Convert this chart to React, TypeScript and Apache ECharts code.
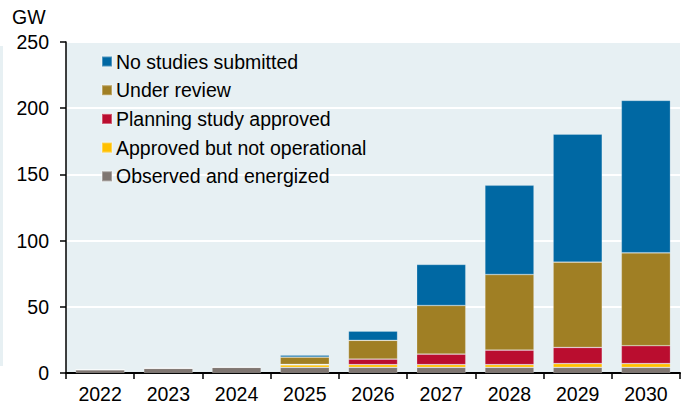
import React, { useEffect, useRef } from "react";
import * as echarts from "echarts";

const years = ["2022", "2023", "2024", "2025", "2026", "2027", "2028", "2029", "2030"];
const observed = [2.5, 3.5, 4.3, 4.3, 4.3, 4.3, 4.3, 4.3, 4.3];
const approved = [0, 0, 0, 1.8, 2, 2, 2, 2.8, 2.8];
const planning = [0, 0, 0, 0.4, 4.2, 8, 11, 12.2, 13.5];
const underReview = [0, 0.4, 0.3, 5.5, 14.2, 36.7, 57.1, 64.4, 70.2];
const noStudies = [0, 0, 0, 1.5, 7, 31, 67.4, 96.7, 115.1];
const yTicks = { min: 0, max: 250, interval: 50 };

const FONT = "'Liberation Sans', Arial, sans-serif";
const FS = 19.5;

export default function App() {
  const ref = useRef<HTMLDivElement>(null);
  useEffect(() => {
    if (!ref.current) return;
    const chart = echarts.init(ref.current, undefined, { renderer: "svg" });
    const mk = (name: string, data: number[], color: string) => ({
      name,
      type: "bar",
      stack: "total",
      data,
      barWidth: "72%",
      itemStyle: { color, borderColor: "rgba(255,255,255,0.3)", borderWidth: 0.7 },
    });
    chart.setOption({
      animation: false,
      textStyle: { fontFamily: FONT },
      grid: {
        left: 66,
        right: 5,
        top: 42,
        bottom: 29,
        show: true,
        backgroundColor: "#E7F0F3",
        borderWidth: 0,
        outerBoundsMode: "none",
        containLabel: false,
      },
      legend: {
        orient: "vertical",
        left: 101,
        top: 51,
        padding: 0,
        itemWidth: 10,
        itemHeight: 10,
        itemGap: 7.7,
        icon: "rect",
        data: [
          "No studies submitted",
          "Under review",
          "Planning study approved",
          "Approved but not operational",
          "Observed and energized",
        ],
        textStyle: { fontSize: FS, color: "#000", fontFamily: FONT, lineHeight: 21, padding: [0, 0, 0, -1] },
      },
      xAxis: {
        type: "category",
        data: years,
        axisLine: { lineStyle: { color: "#000", width: 2 } },
        axisTick: { show: true, length: 6, lineStyle: { color: "#000", width: 1.5 } },
        axisLabel: { fontSize: FS, color: "#000", margin: 11, fontFamily: FONT },
      },
      yAxis: {
        type: "value",
        min: yTicks.min,
        max: yTicks.max,
        interval: yTicks.interval,
        axisLine: { show: true, lineStyle: { color: "#000", width: 1.5 } },
        axisTick: { show: true, length: 6, lineStyle: { color: "#000", width: 1.5 } },
        axisLabel: { fontSize: FS, color: "#000", margin: 17, fontFamily: FONT },
        splitLine: { show: true, lineStyle: { color: "#FFFFFF", width: 2 } },
      },
      graphic: [
        {
          type: "text",
          left: 12,
          top: 7,
          style: { text: "GW", fontSize: FS, fill: "#000", fontFamily: FONT },
        },
        {
          type: "rect",
          shape: { x: 0, y: 46, width: 3, height: 320 },
          style: { fill: "#E7F0F3" },
        },
      ],
      series: [
        mk("Observed and energized", observed, "#7F7671"),
        mk("Approved but not operational", approved, "#FFC000"),
        mk("Planning study approved", planning, "#BA0D2F"),
        mk("Under review", underReview, "#A07F24"),
        mk("No studies submitted", noStudies, "#0068A3"),
      ],
    });
    return () => chart.dispose();
  }, []);
  return <div ref={ref} style={{ position: "absolute", left: 0, top: 0, width: 685, height: 402 }} />;
}
